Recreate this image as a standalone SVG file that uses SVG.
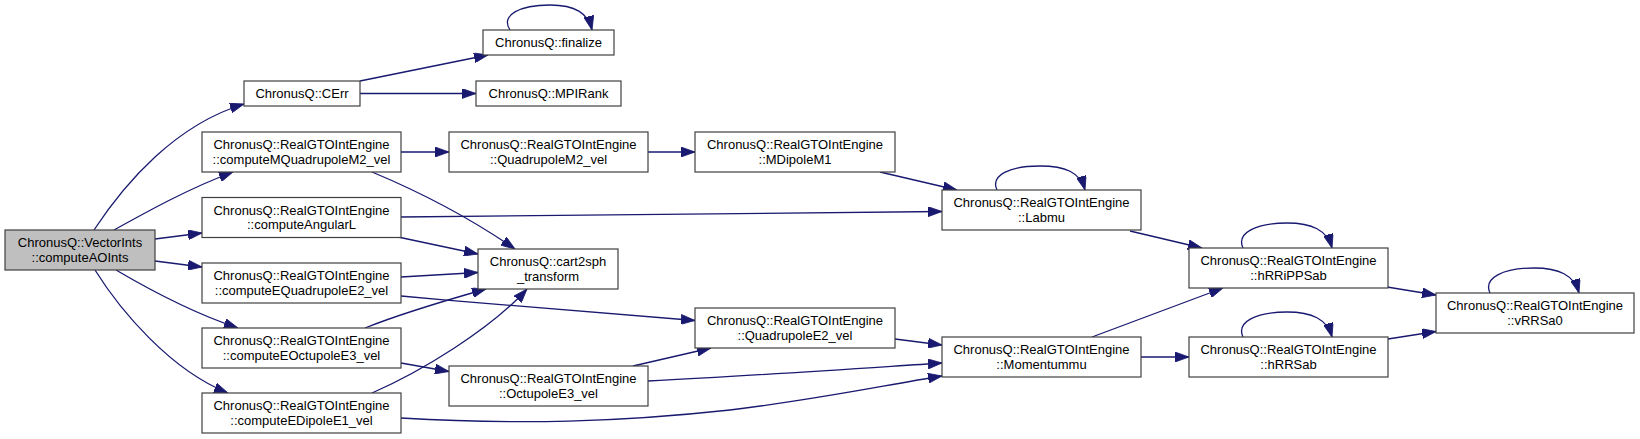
<svg xmlns="http://www.w3.org/2000/svg" width="1640" height="439" viewBox="0 0 1640 439">
<style>
.n rect{fill:#fff;stroke:#404040;stroke-width:1.2}
.n.sel rect{fill:#bfbfbf}
.n text{font-family:"Liberation Sans",Arial,Helvetica,sans-serif;font-size:13px;fill:#000;text-anchor:middle}
.e path{fill:none;stroke:#191970;stroke-width:1.3;marker-end:url(#ah)}
</style>
<defs>
<marker id="ah" markerUnits="userSpaceOnUse" markerWidth="14" markerHeight="10" refX="14" refY="5" orient="auto">
<path d="M0,0 L14,5 L0,10 z" fill="#191970" stroke="#191970" stroke-width="0.8"/>
</marker>
</defs>
<rect width="1640" height="439" fill="#fff"/>
<g id="edges" class="e">
<path d="M94,230 C125,183 175,125 244,104"/>
<path d="M114,230 C150,210 190,188 233,172"/>
<path d="M155,239 L202,233"/>
<path d="M155,261 L202,267"/>
<path d="M116,270 C150,290 190,312 238,328"/>
<path d="M95,270 C120,310 170,370 228,393"/>
<path d="M360,81 L488,55"/>
<path d="M360,93.5 L476,93.5"/>
<path d="M510,30 C500,15 520,5 550,5 C575,5 588,13 592,30"/>
<path d="M401,152 L449,152"/>
<path d="M648,152 L695,152"/>
<path d="M880,172 L957,190"/>
<path d="M372,172 C420,192 470,218 515,249"/>
<path d="M401,217 L942,211.5"/>
<path d="M398,237 L478,254"/>
<path d="M401,277 L478,272.5"/>
<path d="M401,296 C500,305 600,313 695,320.5"/>
<path d="M365,328 C400,314 440,302 486,289"/>
<path d="M401,363 L449,371.5"/>
<path d="M372,393 C420,372 490,330 527,289"/>
<path d="M401,418 C520,425 620,422 730,410 C820,399 880,386 942,376"/>
<path d="M633,366 L711,348"/>
<path d="M648,381 C750,376 850,369 942,363"/>
<path d="M895,339 L942,345"/>
<path d="M997,190 C990,175 1010,166 1040,166 C1065,166 1080,172 1085,190"/>
<path d="M1130,231 L1202,248"/>
<path d="M1092,337 L1223,288"/>
<path d="M1141,357 L1189,357"/>
<path d="M1243,248 C1236,233 1256,223 1287,223 C1312,223 1327,230 1332,248"/>
<path d="M1243,337 C1236,322 1256,312 1287,312 C1312,312 1327,319 1332,337"/>
<path d="M1387,287 L1436,295"/>
<path d="M1388,339 L1436,331.5"/>
<path d="M1490,293 C1483,278 1503,268 1534,268 C1559,268 1574,275 1579,293"/>
</g>
<g id="computeAOInts" class="n sel"><rect x="5" y="230" width="150" height="40"/><text x="80" y="247">ChronusQ::VectorInts</text><text x="80" y="261.5">::computeAOInts</text></g>
<g id="CErr" class="n"><rect x="244" y="81" width="116" height="25"/><text x="302" y="97.5">ChronusQ::CErr</text></g>
<g id="finalize" class="n"><rect x="483" y="30" width="131" height="25"/><text x="548.5" y="46.5">ChronusQ::finalize</text></g>
<g id="MPIRank" class="n"><rect x="476" y="81" width="145" height="25"/><text x="548.5" y="97.5">ChronusQ::MPIRank</text></g>
<g id="computeMQuadrupoleM2_vel" class="n"><rect x="202" y="132" width="199" height="40"/><text x="301.5" y="149">ChronusQ::RealGTOIntEngine</text><text x="301.5" y="163.5">::computeMQuadrupoleM2_vel</text></g>
<g id="computeAngularL" class="n"><rect x="202" y="197.5" width="199" height="40"/><text x="301.5" y="214.5">ChronusQ::RealGTOIntEngine</text><text x="301.5" y="229">::computeAngularL</text></g>
<g id="computeEQuadrupoleE2_vel" class="n"><rect x="202" y="263" width="199" height="40"/><text x="301.5" y="280">ChronusQ::RealGTOIntEngine</text><text x="301.5" y="294.5">::computeEQuadrupoleE2_vel</text></g>
<g id="computeEOctupoleE3_vel" class="n"><rect x="202" y="328" width="199" height="40"/><text x="301.5" y="345">ChronusQ::RealGTOIntEngine</text><text x="301.5" y="359.5">::computeEOctupoleE3_vel</text></g>
<g id="computeEDipoleE1_vel" class="n"><rect x="202" y="393" width="199" height="40"/><text x="301.5" y="410">ChronusQ::RealGTOIntEngine</text><text x="301.5" y="424.5">::computeEDipoleE1_vel</text></g>
<g id="QuadrupoleM2_vel" class="n"><rect x="449" y="132" width="199" height="40"/><text x="548.5" y="149">ChronusQ::RealGTOIntEngine</text><text x="548.5" y="163.5">::QuadrupoleM2_vel</text></g>
<g id="MDipoleM1" class="n"><rect x="695" y="132" width="200" height="40"/><text x="795" y="149">ChronusQ::RealGTOIntEngine</text><text x="795" y="163.5">::MDipoleM1</text></g>
<g id="cart2sph_transform" class="n"><rect x="478" y="249" width="140" height="40"/><text x="548" y="266">ChronusQ::cart2sph</text><text x="548" y="280.5">_transform</text></g>
<g id="QuadrupoleE2_vel" class="n"><rect x="695" y="308" width="200" height="40"/><text x="795" y="325">ChronusQ::RealGTOIntEngine</text><text x="795" y="339.5">::QuadrupoleE2_vel</text></g>
<g id="OctupoleE3_vel" class="n"><rect x="449" y="366" width="199" height="40"/><text x="548.5" y="383">ChronusQ::RealGTOIntEngine</text><text x="548.5" y="397.5">::OctupoleE3_vel</text></g>
<g id="Labmu" class="n"><rect x="942" y="190" width="199" height="40"/><text x="1041.5" y="207">ChronusQ::RealGTOIntEngine</text><text x="1041.5" y="221.5">::Labmu</text></g>
<g id="Momentummu" class="n"><rect x="942" y="337" width="199" height="40"/><text x="1041.5" y="354">ChronusQ::RealGTOIntEngine</text><text x="1041.5" y="368.5">::Momentummu</text></g>
<g id="hRRiPPSab" class="n"><rect x="1189" y="248" width="199" height="40"/><text x="1288.5" y="265">ChronusQ::RealGTOIntEngine</text><text x="1288.5" y="279.5">::hRRiPPSab</text></g>
<g id="hRRSab" class="n"><rect x="1189" y="337" width="199" height="40"/><text x="1288.5" y="354">ChronusQ::RealGTOIntEngine</text><text x="1288.5" y="368.5">::hRRSab</text></g>
<g id="vRRSa0" class="n"><rect x="1436" y="293" width="198" height="40"/><text x="1535" y="310">ChronusQ::RealGTOIntEngine</text><text x="1535" y="324.5">::vRRSa0</text></g>
</svg>
